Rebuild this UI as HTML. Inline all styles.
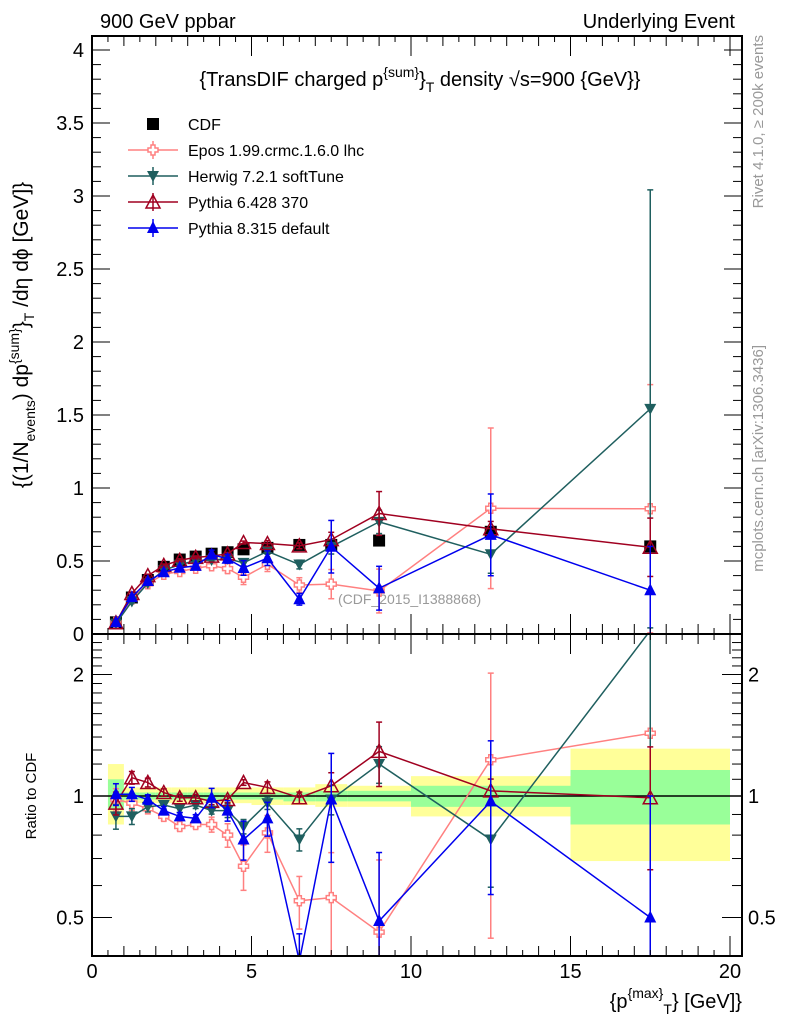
<!DOCTYPE html>
<html><head><meta charset="utf-8"><style>
html,body{margin:0;padding:0;background:#fff;width:786px;height:1024px;overflow:hidden;}
svg{display:block;font-family:"Liberation Sans",sans-serif;}
</style></head><body>
<svg id="c" width="786" height="1024" viewBox="0 0 786 1024" xmlns="http://www.w3.org/2000/svg">
<text x="100" y="28" font-size="20">900 GeV ppbar</text>
<text x="735" y="28" font-size="20" text-anchor="end">Underlying Event</text>
<text x="420" y="86" font-size="20" text-anchor="middle">{TransDIF charged p<tspan dy="-9" font-size="14">{sum}</tspan><tspan dy="9">}</tspan><tspan dy="6" font-size="14">T</tspan><tspan dy="-6"> density √s=900 {GeV}}</tspan></text>
<text transform="translate(763,35) rotate(-90)" font-size="15" fill="#999" text-anchor="end">Rivet 4.1.0, ≥ 200k events</text>
<text transform="translate(763,345) rotate(-90)" font-size="15" fill="#999" text-anchor="end">mcplots.cern.ch [arXiv:1306.3436]</text>
<text transform="translate(28,335) rotate(-90)" font-size="21" text-anchor="middle">{(1/N<tspan dy="7" font-size="14">events</tspan><tspan dy="-7">) dp</tspan><tspan dy="-9" font-size="14">{sum}</tspan><tspan dy="9">}</tspan><tspan dy="6" font-size="14">T</tspan><tspan dy="-6"> /dη  dϕ [GeV]}</tspan></text>
<text transform="translate(36,796) rotate(-90)" font-size="15" text-anchor="middle">Ratio to CDF</text>
<text x="742" y="1008" font-size="20" text-anchor="end">{p<tspan dy="-10" font-size="14">{max}</tspan><tspan dy="16" font-size="14">T</tspan><tspan dy="-6">} [GeV]}</tspan></text>
<text x="338" y="604" font-size="14" fill="#999">(CDF_2015_I1388868)</text>
<g id="g"></g>
</svg>
<script>
const xCenters=[0.75,1.25,1.75,2.25,2.75,3.25,3.75,4.25,4.75,5.5,6.5,7.5,9,12.5,17.5];
const xLow=[0.5,1,1.5,2,2.5,3,3.5,4,4.5,5,6,7,8,10,15];
const xHigh=[1,1.5,2,2.5,3,3.5,4,4.5,5,6,7,8,10,15,20];
const cdf=[0.08,0.25,0.37,0.46,0.51,0.53,0.55,0.56,0.58,0.59,0.61,0.61,0.64,0.70,0.60];
const cdfErr=[0.005,0.01,0.01,0.01,0.01,0.01,0.01,0.01,0.01,0.01,0.01,0.02,0.02,0.04,0.12];
const bandYelLo=[0.85,0.96,0.96,0.96,0.96,0.96,0.96,0.96,0.96,0.95,0.95,0.94,0.94,0.89,0.69];
const bandYelHi=[1.2,1.05,1.05,1.05,1.05,1.05,1.05,1.05,1.05,1.05,1.05,1.07,1.06,1.12,1.31];
const bandGrnLo=[0.93,0.98,0.98,0.98,0.98,0.98,0.98,0.98,0.98,0.98,0.97,0.97,0.97,0.94,0.85];
const bandGrnHi=[1.1,1.02,1.02,1.02,1.02,1.02,1.02,1.02,1.02,1.02,1.02,1.03,1.03,1.06,1.16];
const eposRatio=[0.98,0.96,0.93,0.89,0.84,0.85,0.85,0.80,0.67,0.81,0.55,0.56,0.46,1.23,1.43];
const eposErr=[0.005,0.01,0.01,0.01,0.01,0.01,0.02,0.03,0.05,0.05,0.05,0.1,0.15,0.55,0.85];
const herwigRatio=[0.89,0.89,0.94,0.95,0.93,0.95,0.92,0.92,0.84,0.96,0.78,0.98,1.2,0.78,2.57];
const herwigErr=[0.005,0.01,0.01,0.01,0.01,0.01,0.01,0.02,0.02,0.02,0.03,0.05,0.08,0.13,1.5];
const py6Ratio=[0.96,1.11,1.08,1.02,0.99,0.99,0.97,0.98,1.08,1.05,0.99,1.06,1.29,1.03,0.99];
const py6Err=[0.005,0.01,0.01,0.01,0.01,0.01,0.01,0.01,0.01,0.02,0.02,0.05,0.15,0.05,0.2];
const py8Ratio=[1.01,1.01,0.98,0.92,0.89,0.88,0.99,0.92,0.78,0.88,0.39,0.98,0.49,0.97,0.5];
const py8Err=[0.005,0.01,0.01,0.01,0.01,0.01,0.03,0.03,0.05,0.05,0.04,0.18,0.15,0.28,0.3];
const yTicks=[0,0.5,1,1.5,2,2.5,3,3.5,4];
const yTickLabels=["0","0.5","1","1.5","2","2.5","3","3.5","4"];
const xTicks=[0,5,10,15,20];
const rTicks=[0.5,1,2];

const NS="http://www.w3.org/2000/svg";
const G=document.getElementById('g');
const L=92,R=742,T=36,MB=634,RB=956;
const sx=v=>92+v*31.9;
const sy=v=>634-v*146;
const sr=v=>796-Math.log2(v)*121.5;
function el(t,a,p){const e=document.createElementNS(NS,t);for(const k in a)e.setAttribute(k,a[k]);(p||G).appendChild(e);return e;}
const clipM=el('clipPath',{id:'cm'});el('rect',{x:L,y:T,width:R-L,height:MB-T},clipM);
const clipR=el('clipPath',{id:'cr'});el('rect',{x:L,y:MB,width:R-L,height:RB-MB},clipR);

for(let i=0;i<xLow.length;i++){
  const b=el('rect',{x:sx(xLow[i]),y:sr(bandYelHi[i]),width:sx(xHigh[i])-sx(xLow[i]),height:sr(bandYelLo[i])-sr(bandYelHi[i]),fill:'#ffff99'});
  
  
  const g2=el('rect',{x:sx(xLow[i]),y:sr(bandGrnHi[i]),width:sx(xHigh[i])-sx(xLow[i]),height:sr(bandGrnLo[i])-sr(bandGrnHi[i]),fill:'#99ff99'});
  
  
}
el('line',{x1:L,x2:R,y1:sr(1),y2:sr(1),stroke:'#000','stroke-width':1.5});

function marker(type,x,y,col,parent){
  let m;
  if(type==='sq') m=el('rect',{x:x-6,y:y-6,width:12,height:12,fill:'#000'},parent);
  else if(type==='cross') m=el('path',{d:`M${x-2},${y-5}h4v3h3v4h-3v3h-4v-3h-3v-4h3z`,fill:'#fff',stroke:col,'stroke-width':1.5},parent);
  else if(type==='down') m=el('path',{d:`M${x-6},${y-5}L${x+6},${y-5}L${x},${y+6}z`,fill:col},parent);
  else if(type==='upOpen') m=el('path',{d:`M${x-7},${y+6}L${x+7},${y+6}L${x},${y-7}z`,fill:'none',stroke:col,'stroke-width':1.5},parent);
  else m=el('path',{d:`M${x-6},${y+5}L${x+6},${y+5}L${x},${y-7}z`,fill:col},parent);
  return m;
}
const series=[
 {name:'epos',ratio:eposRatio,err:eposErr,col:'#ff8080',m:'cross'},
 {name:'herwig',ratio:herwigRatio,err:herwigErr,col:'#1f5f5f',m:'down'},
 {name:'pythia6',ratio:py6Ratio,err:py6Err,col:'#a00020',m:'upOpen'},
 {name:'pythia8',ratio:py8Ratio,err:py8Err,col:'#0000ee',m:'up'}
];
const gm=el('g',{'clip-path':'url(#cm)'});
const gr=el('g',{'clip-path':'url(#cr)'});
for(let i=0;i<xCenters.length;i++){
  el('line',{x1:sx(xCenters[i]),x2:sx(xCenters[i]),y1:sy(cdf[i]-cdfErr[i]),y2:sy(cdf[i]+cdfErr[i]),stroke:'#000','stroke-width':1.5},gm);
  const m=marker('sq',sx(xCenters[i]),sy(cdf[i]),'#000',gm);
  
  
}
series.forEach(s=>{
  const vals=s.ratio.map((r,i)=>r*cdf[i]);
  const pm=vals.map((v,i)=>sx(xCenters[i])+','+sy(v)).join(' ');
  const pr=s.ratio.map((v,i)=>sx(xCenters[i])+','+sr(v)).join(' ');
  const l1=el('polyline',{points:pm,fill:'none',stroke:s.col,'stroke-width':1.5},gm);
  
  
  const l2=el('polyline',{points:pr,fill:'none',stroke:s.col,'stroke-width':1.5},gr);
  
  
  vals.forEach((v,i)=>{
    const x=sx(xCenters[i]),e=s.err[i];
    el('line',{x1:x,x2:x,y1:sy(v-e),y2:sy(v+e),stroke:s.col,'stroke-width':1.5},gm);
    el('line',{x1:x-3,x2:x+3,y1:sy(v-e),y2:sy(v-e),stroke:s.col,'stroke-width':1.5},gm);
    el('line',{x1:x-3,x2:x+3,y1:sy(v+e),y2:sy(v+e),stroke:s.col,'stroke-width':1.5},gm);
    const lo=Math.max((v-e)/cdf[i],0.05),hi=(v+e)/cdf[i];
    el('line',{x1:x,x2:x,y1:sr(lo),y2:sr(hi),stroke:s.col,'stroke-width':1.5},gr);
    el('line',{x1:x-3,x2:x+3,y1:sr(lo),y2:sr(lo),stroke:s.col,'stroke-width':1.5},gr);
    el('line',{x1:x-3,x2:x+3,y1:sr(hi),y2:sr(hi),stroke:s.col,'stroke-width':1.5},gr);
    const m=marker(s.m,x,sy(v),s.col,gm);
    
    
    const m2=marker(s.m,x,sr(s.ratio[i]),s.col,gr);
    
    
  });
});
el('rect',{x:L,y:T,width:R-L,height:MB-T,fill:'none',stroke:'#000','stroke-width':2});
el('rect',{x:L,y:MB,width:R-L,height:RB-MB,fill:'none',stroke:'#000','stroke-width':2});
for(let v=0;v<=4.1;v+=0.1){
  const y=sy(v),maj=Math.abs(v*2-Math.round(v*2))<1e-6,len=maj?18:9;
  el('line',{x1:L,x2:L+len,y1:y,y2:y,stroke:'#000'});
  el('line',{x1:R,x2:R-len,y1:y,y2:y,stroke:'#000'});
}
yTicks.forEach((v,i)=>{
  const t=el('text',{x:L-8,y:sy(v)+7,'font-size':20,'text-anchor':'end'});t.textContent=yTickLabels[i];
  
  
});
for(let v=0;v<=20.3;v+=0.5){
  const x=sx(v),maj=Math.abs(v%5)<1e-6,mid=Math.abs(v%1)<1e-6,len=maj?20:(mid?10:6);
  [MB,RB].forEach(b=>{el('line',{x1:x,x2:x,y1:b,y2:b-len,stroke:'#000'});});
  [T,MB].forEach(b=>{el('line',{x1:x,x2:x,y1:b,y2:b+len,stroke:'#000'});});
}
xTicks.forEach(v=>{
  const t=el('text',{x:sx(v),y:978,'font-size':20,'text-anchor':'middle'});t.textContent=String(v);
  
  
});
for(let v=0.4;v<=2.5;v+=0.1){
  const y=sr(v);if(y<MB||y>RB)continue;
  const maj=rTicks.some(r=>Math.abs(r-v)<1e-6),len=maj?20:10;
  el('line',{x1:L,x2:L+len,y1:y,y2:y,stroke:'#000'});
  el('line',{x1:R,x2:R-len,y1:y,y2:y,stroke:'#000'});
}
rTicks.forEach(v=>{
  const t=el('text',{x:L-8,y:sr(v)+7,'font-size':20,'text-anchor':'end'});t.textContent=String(v);
  
  
  const t2=el('text',{x:R+6,y:sr(v)+7,'font-size':20});t2.textContent=String(v);
  
  
});
const legNames=['Epos 1.99.crmc.1.6.0 lhc','Herwig 7.2.1 softTune','Pythia 6.428 370','Pythia 8.315 default'];
const lc=el('g',{});
marker('sq',153,124,'#000',lc);
const lt=el('text',{x:188,y:130,'font-size':16},lc);lt.textContent='CDF';
series.forEach((s,i)=>{
  const y=150+i*26;
  const g=el('g',{});
  
  
  el('line',{x1:128,x2:178,y1:y,y2:y,stroke:s.col,'stroke-width':1.5},g);
  el('line',{x1:153,x2:153,y1:y-9,y2:y+9,stroke:s.col,'stroke-width':1.5},g);
  marker(s.m,153,y,s.col,g);
  const t=el('text',{x:188,y:y+6,'font-size':16},g);t.textContent=legNames[i];
});
</script>
</body></html>
